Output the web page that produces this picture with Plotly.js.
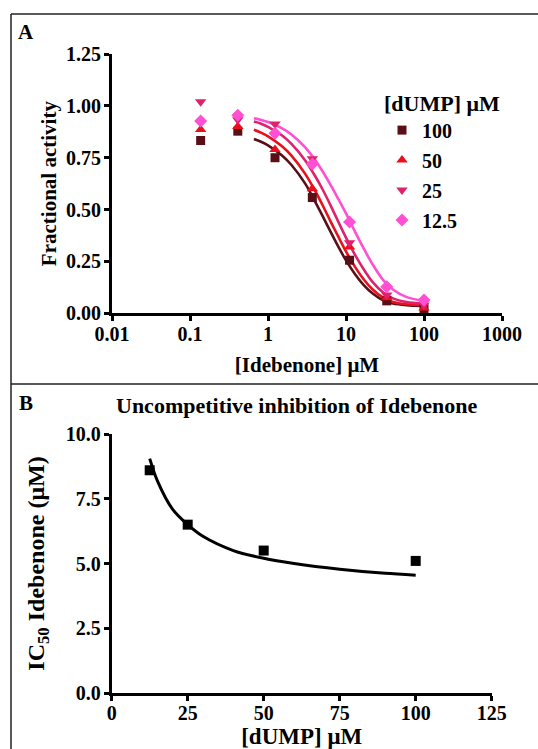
<!DOCTYPE html>
<html>
<head>
<meta charset="utf-8">
<script src="https://cdn.plot.ly/plotly-3.0.1.min.js"></script>
<style>
  html, body { margin: 0; padding: 0; background: #fff; }
  #chart { width: 538px; height: 749px; }
</style>
</head>
<body>
<div id="chart"></div>
<script>
// ---------- Panel A data ----------
const seriesNames = ['100', '50', '25', '12.5'];
const seriesColors = ['#5a0e16', '#e8101c', '#e0226e', '#ff4fd2'];
const seriesSymbols = ['square', 'triangle-up', 'triangle-down', 'diamond'];

const idebenoneDose = [0.137, 0.41, 1.23, 3.7, 11.1, 33.3, 100];
const activity100  = [0.833, 0.878, 0.750, 0.558, 0.256, 0.060, 0.022];
const activity50   = [0.886, 0.900, 0.790, 0.600, 0.320, 0.075, 0.025];
const activity25   = [1.020, 0.933, 0.913, 0.745, 0.340, 0.088, 0.040];
const activity12_5 = [0.927, 0.955, 0.868, 0.720, 0.440, 0.128, 0.064];

// fitted curves
const fitDose = [0.66, 0.8, 1, 1.5, 2, 3, 4, 5, 6.5, 8, 10, 13, 17, 22, 30, 40, 60, 100];
const fit100  = [0.840, 0.828, 0.810, 0.762, 0.715, 0.625, 0.540, 0.470, 0.385, 0.320, 0.255, 0.190, 0.135, 0.095, 0.062, 0.047, 0.039, 0.035];
const fit50   = [0.885, 0.872, 0.853, 0.806, 0.760, 0.672, 0.592, 0.522, 0.435, 0.368, 0.298, 0.225, 0.162, 0.115, 0.075, 0.055, 0.044, 0.040];
const fit25   = [0.925, 0.915, 0.899, 0.858, 0.817, 0.737, 0.663, 0.598, 0.512, 0.440, 0.365, 0.283, 0.210, 0.150, 0.100, 0.072, 0.054, 0.046];
const fit12_5 = [0.940, 0.933, 0.922, 0.893, 0.862, 0.800, 0.740, 0.685, 0.612, 0.550, 0.482, 0.395, 0.310, 0.235, 0.160, 0.115, 0.078, 0.060];

const xTickValsA = [0.01, 0.1, 1, 10, 100, 1000];
const xTickTextA = ['0.01', '0.1', '1', '10', '100', '1000'];
const yTickValsA = [0, 0.25, 0.5, 0.75, 1.0, 1.25];
const yTickTextA = ['0.00', '0.25', '0.50', '0.75', '1.00', '1.25'];

// ---------- Panel B data ----------
const dumpConc = [12.5, 25, 50, 100];
const ic50Values = [8.6, 6.5, 5.5, 5.1];
const dumpFit = [12.5, 15, 20, 25, 30, 40, 50, 60, 75, 90, 100];
const ic50Fit = [9.05, 8.2, 7.1, 6.5, 6.05, 5.5, 5.2, 5.0, 4.78, 4.62, 4.55];

const xTickValsB = [0, 25, 50, 75, 100, 125];
const yTickValsB = [0, 2.5, 5, 7.5, 10];
const yTickTextB = ['0.0', '2.5', '5.0', '7.5', '10.0'];

// ---------- geometry helpers ----------
const W = 538, H = 749;
const px = v => v / W;
const py = v => 1 - v / H;

const FONT = 'Liberation Serif, Times New Roman, serif';

const pointSets = [activity100, activity50, activity25, activity12_5];
const fitSets = [fit100, fit50, fit25, fit12_5];

const traces = [];
fitSets.forEach((f, i) => {
  traces.push({
    x: fitDose, y: f, type: 'scatter', mode: 'lines',
    line: { color: seriesColors[i], width: 2.6, shape: 'spline', smoothing: 0.8 },
    xaxis: 'x', yaxis: 'y', showlegend: false, hoverinfo: 'skip'
  });
});
pointSets.forEach((p, i) => {
  traces.push({
    x: idebenoneDose, y: p, type: 'scatter', mode: 'markers',
    name: seriesNames[i], legendgroup: 'g' + i,
    marker: { color: seriesColors[i], symbol: seriesSymbols[i], size: seriesSymbols[i] === 'square' ? 9 : 10, line: { width: 0 } },
    xaxis: 'x', yaxis: 'y', cliponaxis: false
  });
});
traces.push({
  x: dumpFit, y: ic50Fit, type: 'scatter', mode: 'lines',
  line: { color: '#000', width: 3, shape: 'spline', smoothing: 0.8 },
  xaxis: 'x2', yaxis: 'y2', showlegend: false
});
traces.push({
  x: dumpConc, y: ic50Values, type: 'scatter', mode: 'markers',
  marker: { color: '#000', symbol: 'square', size: 10 },
  xaxis: 'x2', yaxis: 'y2', showlegend: false, cliponaxis: false
});

const axisCommon = {
  showline: true, linecolor: '#000', linewidth: 3,
  ticks: 'outside', ticklen: 5, tickwidth: 3, tickcolor: '#000',
  showgrid: false, zeroline: false, fixedrange: true,
  tickfont: { family: FONT, size: 20, color: '#000', weight: 'bold' }
};

const layout = {
  width: W, height: H,
  margin: { l: 0, r: 0, t: 0, b: 0 },
  paper_bgcolor: '#fff', plot_bgcolor: 'rgba(0,0,0,0)',
  font: { family: FONT, color: '#000', weight: 'bold' },
  xaxis: Object.assign({}, axisCommon, {
    type: 'log', range: [-2, 3], domain: [px(112), px(502)], anchor: 'y',
    tickmode: 'array', tickvals: xTickValsA, ticktext: xTickTextA, ticklabelstandoff: -4,
    title: { text: '[Idebenone] μM', font: { family: FONT, size: 21, weight: 'bold' }, standoff: 14 }
  }),
  yaxis: Object.assign({}, axisCommon, {
    range: [0, 1.25], domain: [py(313.3), py(54)], anchor: 'x',
    tickmode: 'array', tickvals: yTickValsA, ticktext: yTickTextA, ticklabelstandoff: -1,
    title: { text: 'Fractional activity', font: { family: FONT, size: 21, weight: 'bold' }, standoff: 4 }
  }),
  xaxis2: Object.assign({}, axisCommon, {
    range: [0, 125], domain: [px(111.7), px(491.7)], anchor: 'y2',
    tickmode: 'array', tickvals: xTickValsB, ticklabelstandoff: -5,
    title: { text: '[dUMP] μM', font: { family: FONT, size: 23, weight: 'bold' }, standoff: 10 }
  }),
  yaxis2: Object.assign({}, axisCommon, {
    range: [0, 10], domain: [py(693), py(434)], anchor: 'x2',
    tickmode: 'array', tickvals: yTickValsB, ticktext: yTickTextB, ticklabelstandoff: -1,
    title: { text: 'IC<sub>50</sub> Idebenone (μM)', font: { family: FONT, size: 24, weight: 'bold' }, standoff: 15 }
  }),
  showlegend: true,
  legend: {
    x: px(382), y: py(82), xanchor: 'left', yanchor: 'top',
    bgcolor: 'rgba(0,0,0,0)', borderwidth: 0,
    title: { text: '[dUMP] μM', font: { family: FONT, size: 22, weight: 'bold' } },
    font: { family: FONT, size: 20, weight: 'bold', color: '#000' },
    tracegroupgap: 1, itemwidth: 30
  },
  shapes: [
    { type: 'line', xref: 'paper', yref: 'paper', x0: px(11), x1: 1, y0: py(14), y1: py(14), line: { color: '#222', width: 1.5 } },
    { type: 'line', xref: 'paper', yref: 'paper', x0: px(11), x1: px(11), y0: py(14), y1: 0, line: { color: '#222', width: 1.5 } },
    { type: 'line', xref: 'paper', yref: 'paper', x0: px(11), x1: 1, y0: py(384), y1: py(384), line: { color: '#222', width: 1.5 } }
  ],
  annotations: [
    { text: 'A', xref: 'paper', yref: 'paper', x: px(16), y: py(32), xanchor: 'left', yanchor: 'middle', showarrow: false,
      font: { family: FONT, size: 21, weight: 'bold', color: '#000' } },
    { text: 'B', xref: 'paper', yref: 'paper', x: px(17), y: py(403), xanchor: 'left', yanchor: 'middle', showarrow: false,
      font: { family: FONT, size: 21, weight: 'bold', color: '#000' } },
    { text: 'Uncompetitive inhibition of Idebenone', xref: 'paper', yref: 'paper', x: px(297), y: py(405), xanchor: 'center', yanchor: 'middle', showarrow: false,
      font: { family: FONT, size: 22, weight: 'bold', color: '#000' } }
  ]
};

Plotly.newPlot('chart', traces, layout, { displayModeBar: false, staticPlot: true });
</script>
</body>
</html>
